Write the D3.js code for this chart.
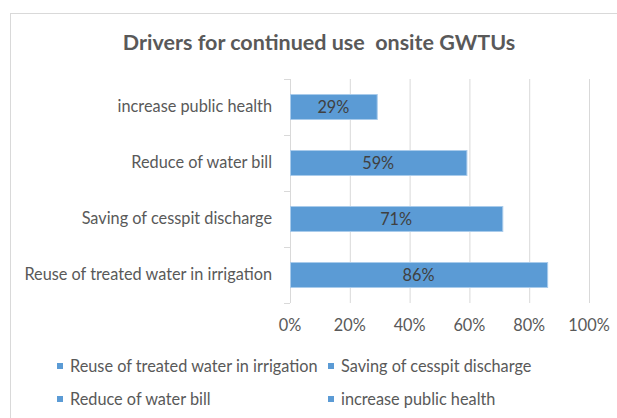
<!DOCTYPE html>
<html lang="en">
<head>
  <meta charset="UTF-8">
  <title>Drivers for continued use onsite GWTUs</title>
  <script src="https://d3js.org/d3.v7.min.js"></script>
  <style>
    body { margin: 0; background: white; }
    text { font-family: Lato, "Open Sans", sans-serif; fill: #595959; }
  </style>
</head>
<body>
  <div id="chart"></div>
  <script>
    // data
    const categories = [
      "Reuse of treated water in irrigation",
      "Saving of cesspit discharge",
      "Reduce of water bill",
      "increase public health"
    ];
    const values = [86, 71, 59, 29];
    const xTicks = [0, 20, 40, 60, 80, 100];

    const width = 617, height = 418;
    const barColor = "#5b9bd5";
    const fontSize = "16.3px";

    const svg = d3.select("#chart").append("svg")
      .attr("width", width)
      .attr("height", height);

    // chart frame
    svg.append("rect")
      .attr("x", 10.5).attr("y", 13.5)
      .attr("width", 640).attr("height", 440)
      .attr("fill", "none").attr("stroke", "#d9d9d9");

    svg.append("text")
      .attr("x", 319).attr("y", 50)
      .attr("text-anchor", "middle")
      .attr("xml:space", "preserve")
      .style("font-size", "21.5px").style("font-weight", "bold")
      .text("Drivers for continued use  onsite GWTUs");

    const plotTop = 79, plotBottom = 303;
    const x = d3.scaleLinear().domain([0, 100]).range([290, 589]);
    const y = d3.scaleBand()
      .domain(categories.slice().reverse())
      .range([plotTop, plotBottom])
      .paddingInner(0.554)
      .paddingOuter(0.277);

    // vertical gridlines
    svg.append("g").selectAll("line")
      .data(xTicks.slice(1))
      .enter().append("line")
      .attr("x1", d => x(d) + 0.5).attr("x2", d => x(d) + 0.5)
      .attr("y1", plotTop).attr("y2", plotBottom)
      .attr("stroke", "#d9d9d9");

    // category axis line and ticks at band edges
    svg.append("line")
      .attr("x1", 290.5).attr("x2", 290.5)
      .attr("y1", plotTop).attr("y2", plotBottom)
      .attr("stroke", "#d9d9d9");
    const step = y.step();
    svg.append("g").selectAll("line")
      .data(d3.range(categories.length + 1))
      .enter().append("line")
      .attr("x1", 284).attr("x2", 290)
      .attr("y1", i => plotTop + i * step + 0.5).attr("y2", i => plotTop + i * step + 0.5)
      .attr("stroke", "#d9d9d9");

    // bars
    svg.append("g").selectAll("rect")
      .data(categories)
      .enter().append("rect")
      .attr("x", x(0) + 0.5)
      .attr("y", d => y(d))
      .attr("width", (d, i) => x(values[i]) - x(0))
      .attr("height", y.bandwidth())
      .attr("fill", barColor)
      .attr("stroke", "#a9cbeb").attr("stroke-width", 1);

    // value labels
    svg.append("g").selectAll("text")
      .data(categories)
      .enter().append("text")
      .attr("x", (d, i) => (x(0) + x(values[i])) / 2)
      .attr("y", d => y(d) + y.bandwidth() / 2 + 5.5)
      .attr("text-anchor", "middle")
      .style("font-size", fontSize).style("fill", "#404040")
      .text((d, i) => values[i] + "%");

    // category labels
    svg.append("g").selectAll("text")
      .data(categories)
      .enter().append("text")
      .attr("x", 272)
      .attr("y", d => y(d) + y.bandwidth() / 2 + 5)
      .attr("text-anchor", "end")
      .style("font-size", fontSize)
      .text(d => d);

    // x tick labels
    svg.append("g").selectAll("text")
      .data(xTicks)
      .enter().append("text")
      .attr("x", d => x(d))
      .attr("y", 331)
      .attr("text-anchor", "middle")
      .style("font-size", fontSize)
      .text(d => d + "%");

    // legend
    const legendPos = [[57, 366], [328, 366], [57, 399], [328, 399]];
    const legend = svg.append("g").selectAll("g")
      .data(categories)
      .enter().append("g")
      .attr("transform", (d, i) => `translate(${legendPos[i][0]},${legendPos[i][1]})`);
    legend.append("rect")
      .attr("x", 0).attr("y", -3)
      .attr("width", 6).attr("height", 6)
      .attr("fill", barColor);
    legend.append("text")
      .attr("x", 13).attr("y", 5.5)
      .style("font-size", fontSize)
      .text(d => d);
  </script>
</body>
</html>
